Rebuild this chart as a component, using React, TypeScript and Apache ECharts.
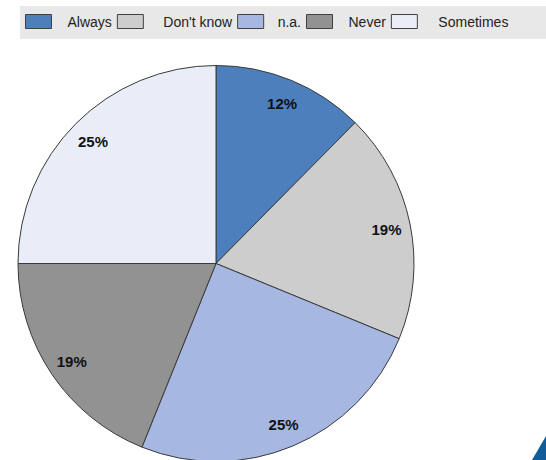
import React, { useEffect, useRef } from "react";
import * as echarts from "echarts";

const categories = ["Always", "Don't know", "n.a.", "Never", "Sometimes"];
const values = [12.4, 18.8, 24.9, 18.9, 25.0];
const labels = ["12%", "19%", "25%", "19%", "25%"];
const colors = ["#4D7FBC", "#CDCDCD", "#A6B8E2", "#929292", "#E9EDF7"];
const legendTextGaps = [11, 15, 9, 11, 16];

export default function App() {
  const ref = useRef<HTMLDivElement>(null);
  useEffect(() => {
    if (!ref.current) return;
    const chart = echarts.init(ref.current, undefined, { renderer: "svg" });
    const data = categories.map((name, i) => ({
      name,
      value: values[i],
      itemStyle: { color: colors[i] },
    }));
    chart.setOption({
      animation: false,
      backgroundColor: "#ffffff",
      graphic: [
        {
          type: "rect",
          z: 0,
          shape: { x: 20, y: 6, width: 526, height: 33 },
          style: { fill: "#E8E8E8" },
        },
        {
          type: "polygon",
          z: 0,
          shape: { points: [[532, 460], [546, 436], [546, 460]] },
          style: { fill: "#125C98" },
        },
      ],
      legend: {
        data: categories.map((name, i) => ({
          name,
          textStyle: { padding: [0, 0, 0, legendTextGaps[i]] },
        })),
        left: 20,
        top: 6,
        padding: [8, 5, 8, 5],
        itemWidth: 26,
        itemHeight: 14,
        itemGap: 5,
        icon: "rect",
        itemStyle: { borderColor: "#404040", borderWidth: 1 },
        textStyle: {
          fontFamily: "Liberation Sans, Arial, sans-serif",
          fontSize: 14,
          color: "#222222",
        },
      },
      series: [
        {
          type: "pie",
          center: [216, 263.5],
          radius: [0, 198],
          startAngle: 90,
          clockwise: true,
          silent: true,
          data,
          itemStyle: { borderColor: "#3A3A3A", borderWidth: 1 },
          label: { show: false },
          labelLine: { show: false },
        },
        {
          type: "pie",
          center: [216, 264.5],
          radius: [144, 198],
          startAngle: 90,
          clockwise: true,
          silent: true,
          z: 3,
          data: categories.map((name, i) => ({
            name: name + " ",
            value: values[i],
            itemStyle: { color: "transparent", borderWidth: 0 },
            label: {
              show: true,
              position: "inside",
              formatter: labels[i],
              fontFamily: "Liberation Sans, Arial, sans-serif",
              fontSize: 15,
              fontWeight: "bold",
              color: "#111111",
            },
          })),
          labelLine: { show: false },
        },
      ],
    });
    return () => chart.dispose();
  }, []);
  return (
    <div
      ref={ref}
      style={{ position: "fixed", left: 0, top: 0, width: 546, height: 460 }}
    />
  );
}
